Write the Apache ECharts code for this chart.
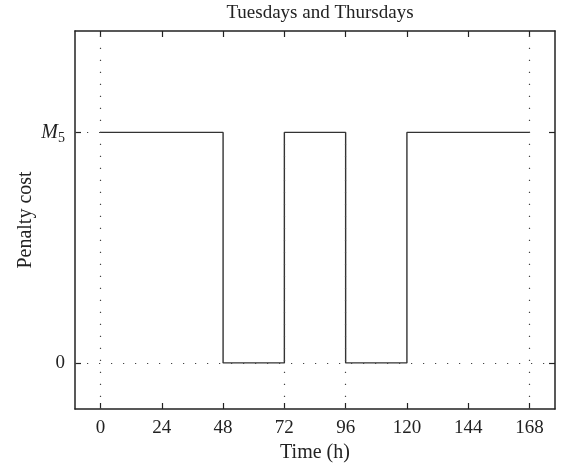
<!DOCTYPE html>
<html>
<head>
<meta charset="utf-8">
<script src="https://cdn.jsdelivr.net/npm/echarts@6/dist/echarts.min.js"></script>
<style>html,body{margin:0;padding:0;background:#fff;}#c{width:563px;height:471px;}</style>
</head>
<body>
<div id="c"></div>
<script>
// Data
const hours = [0, 48, 72, 96, 120, 168];          // breakpoints of the step function
const penalty = [1, 0, 1, 0, 1, 1];                // 1 = M5, 0 = zero (held until next breakpoint)
const xTicks = [0, 24, 48, 72, 96, 120, 144, 168];
const yTicks = [0, 1];
const yTickLabels = ['0', '{i|M}{s|5}'];
const xRange = [-10, 178];
const yRange = [-0.2, 1.44];
const fullGridX = [0, 168];
const partialGridX = [72, 96];
const fullGridY = [0];
const leftGridY = [1];

const font = '"Liberation Serif", "DejaVu Serif", serif';
const axisColor = '#222';
const dotStyle = { color: '#444', width: 1.2, type: [1.2, 10.8] };

const chart = echarts.init(document.getElementById('c'), null, { renderer: 'canvas' });

const markData = [];
fullGridX.forEach(x => markData.push({ xAxis: x }));
partialGridX.forEach(x => markData.push([{ coord: [x, yRange[0]] }, { coord: [x, 1] }]));
fullGridY.forEach(y => markData.push({ yAxis: y }));
leftGridY.forEach(y => markData.push([{ coord: [xRange[0], y] }, { coord: [hours[0], y] }]));

const option = {
  animation: false,
  backgroundColor: '#fff',
  title: {
    text: 'Tuesdays and Thursdays',
    left: 315, top: -1, textAlign: 'center',
    textStyle: { fontFamily: font, fontSize: 19, fontWeight: 'normal', color: '#222' }
  },
  grid: { left: 75, right: 8, top: 31, bottom: 62 },
  xAxis: [{
    type: 'value', min: xRange[0], max: xRange[1], position: 'bottom',
    axisLine: { show: true, onZero: false, lineStyle: { color: axisColor, width: 1.5 } },
    axisTick: { show: true, inside: true, length: 6, customValues: xTicks, lineStyle: { color: axisColor, width: 1.2 } },
    axisLabel: { show: true, customValues: xTicks, margin: 10, fontFamily: font, fontSize: 19, color: '#222' },
    splitLine: { show: false },
    name: 'Time (h)', nameLocation: 'middle', nameGap: 34,
    nameTextStyle: { fontFamily: font, fontSize: 20, color: '#222' }
  }, {
    type: 'value', min: xRange[0], max: xRange[1], position: 'top',
    axisLine: { show: true, onZero: false, lineStyle: { color: axisColor, width: 1.5 } },
    axisTick: { show: true, inside: true, length: 6, customValues: xTicks, lineStyle: { color: axisColor, width: 1.2 } },
    axisLabel: { show: false },
    splitLine: { show: false }
  }],
  yAxis: [{
    type: 'value', min: yRange[0], max: yRange[1], position: 'left',
    axisLine: { show: true, onZero: false, lineStyle: { color: axisColor, width: 1.5 } },
    axisTick: { show: true, inside: true, length: 6, customValues: yTicks, lineStyle: { color: axisColor, width: 1.2 } },
    axisLabel: {
      show: true, customValues: yTicks, margin: 10, fontFamily: font, fontSize: 19, color: '#222',
      formatter: v => yTickLabels[yTicks.indexOf(v)] ?? '',
      rich: {
        i: { fontFamily: font, fontStyle: 'italic', fontSize: 20, color: '#222' },
        s: { fontFamily: font, fontSize: 14, color: '#222', verticalAlign: 'bottom', padding: [12, 0, 0, 0] }
      }
    },
    splitLine: { show: false },
    name: 'Penalty cost', nameLocation: 'middle', nameGap: 39, nameMoveOverlap: false,
    nameTextStyle: { fontFamily: font, fontSize: 20, color: '#222' }
  }, {
    type: 'value', min: yRange[0], max: yRange[1], position: 'right',
    axisLine: { show: true, onZero: false, lineStyle: { color: axisColor, width: 1.5 } },
    axisTick: { show: true, inside: true, length: 6, customValues: yTicks, lineStyle: { color: axisColor, width: 1.2 } },
    axisLabel: { show: false },
    splitLine: { show: false }
  }],
  series: [{
    type: 'line', xAxisIndex: 0, yAxisIndex: 0,
    data: [],
    silent: true,
    markLine: { silent: true, symbol: 'none', label: { show: false }, lineStyle: dotStyle, data: markData },
    z: 1
  }, {
    type: 'line', xAxisIndex: 0, yAxisIndex: 0,
    step: 'end',
    data: hours.map((h, i) => [h, penalty[i]]),
    showSymbol: false, symbol: 'none',
    lineStyle: { color: '#333', width: 1.4 },
    z: 3
  }]
};
chart.setOption(option);
</script>
</body>
</html>
